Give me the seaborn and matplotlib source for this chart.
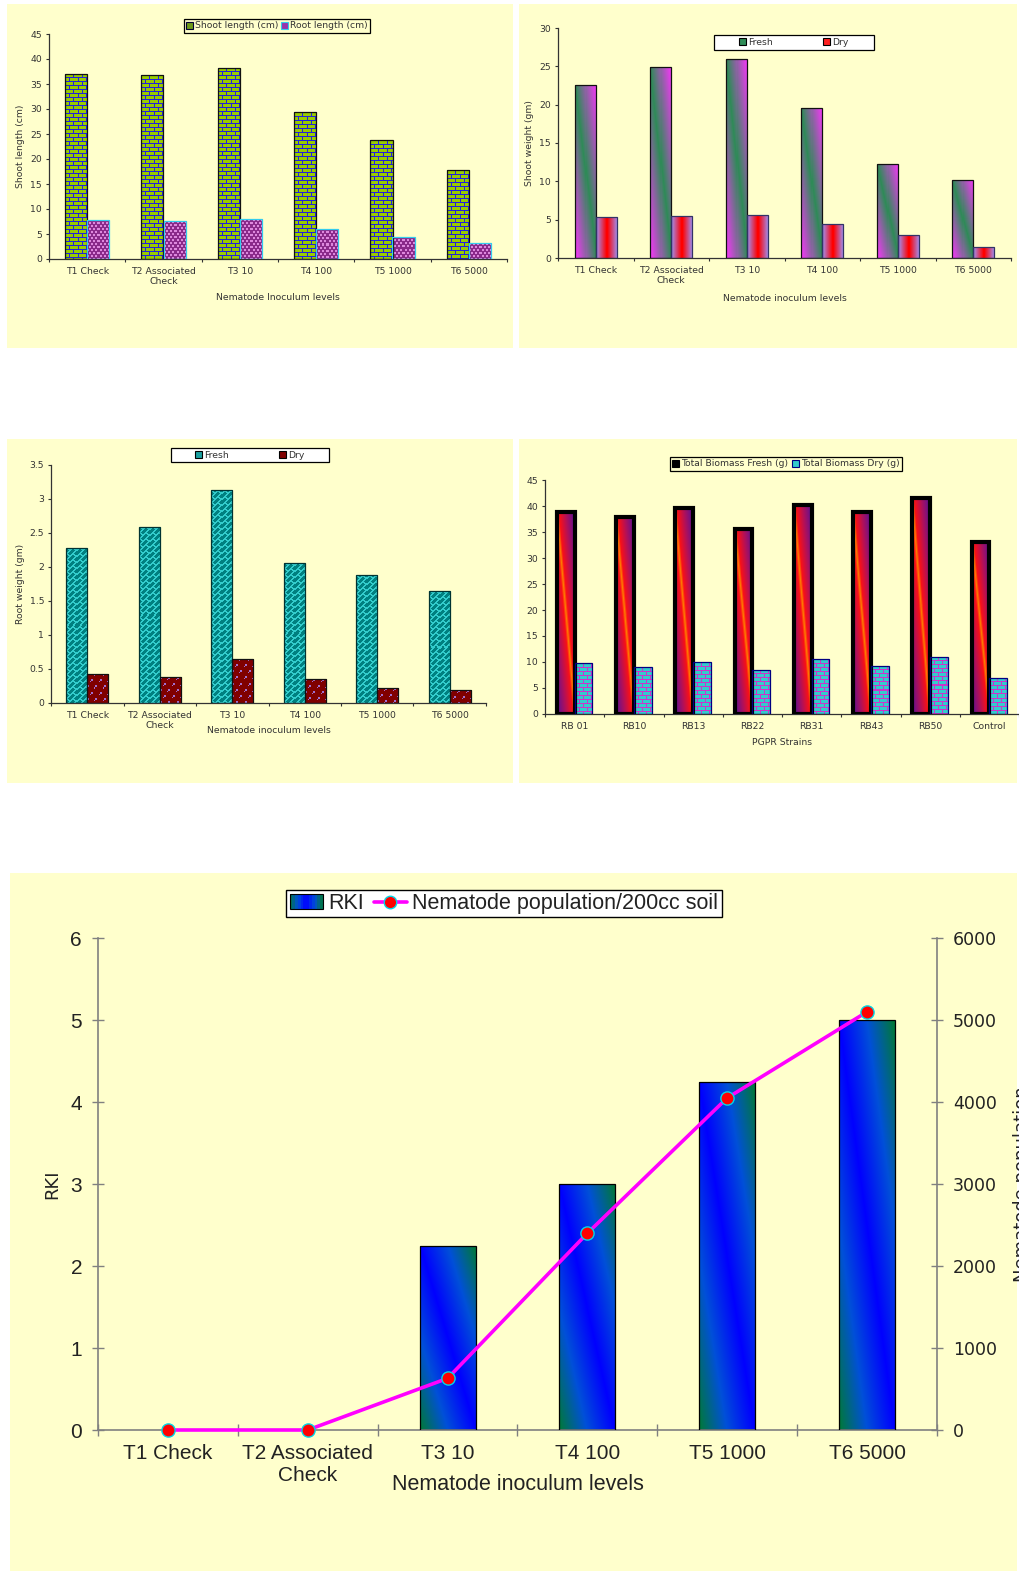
import numpy as np
import pandas as pd
import matplotlib
matplotlib.use("Agg")
import matplotlib.pyplot as plt
import matplotlib.colors as mcolors
import seaborn as sns
from matplotlib.patches import Rectangle, Patch
from matplotlib.lines import Line2D
from matplotlib.ticker import FixedLocator, FuncFormatter
from matplotlib.legend_handler import HandlerBase

sns.set_style("ticks")
plt.rcParams["font.family"] = ["DejaVu Sans"]

# ---------------------------------------------------------------- data
levels = ["T1 Check", "T2 Associated\nCheck", "T3 10", "T4 100", "T5 1000", "T6 5000"]

shoot_length = [37.1, 36.8, 38.3, 29.4, 23.8, 17.8]
root_length = [7.9, 7.6, 8.0, 6.1, 4.5, 3.2]

shoot_fresh = [22.6, 24.9, 25.9, 19.6, 12.2, 10.2]
shoot_dry = [5.3, 5.5, 5.6, 4.4, 3.0, 1.5]

root_fresh = [2.28, 2.59, 3.13, 2.06, 1.88, 1.65]
root_dry = [0.43, 0.38, 0.65, 0.35, 0.22, 0.19]

strains = ["RB 01", "RB10", "RB13", "RB22", "RB31", "RB43", "RB50", "Control"]
biomass_fresh = [38.8, 37.9, 39.6, 35.5, 40.1, 38.8, 41.6, 33.0]
biomass_dry = [9.8, 9.0, 10.0, 8.5, 10.5, 9.3, 11.0, 7.0]

rki = [0, 0, 2.25, 3.0, 4.25, 5.0]
population = [0, 0, 630, 2400, 4050, 5100]

# ---------------------------------------------------------------- figure
W, H = 1019, 1571
BG = "#FFFFCC"
TXT = "#333333"
SMALL = 6.7

fig = plt.figure(figsize=(W / 100, H / 100), dpi=100, facecolor="white")


def panel_bg(left, top, right, bottom):
    fig.add_artist(Rectangle((left / W, 1 - bottom / H), (right - left) / W,
                             (bottom - top) / H, transform=fig.transFigure,
                             facecolor=BG, edgecolor="none", zorder=-5))


def axes_px(left, top, right, bottom):
    ax = fig.add_axes([left / W, 1 - bottom / H, (right - left) / W, (bottom - top) / H])
    ax.set_facecolor("none")
    return ax


def fig_xy(x, y):
    return (x / W, 1 - y / H)


# ---------------------------------------------------------------- fills
def rgb(c):
    return np.array(mcolors.to_rgb(c))


def ramp(t, stops):
    ts = [s[0] for s in stops]
    cs = np.array([rgb(s[1]) for s in stops])
    return np.stack([np.interp(t, ts, cs[:, k]) for k in range(3)], axis=-1)


def grid(h, w):
    return np.mgrid[0:h, 0:w]


def brick(brick_c, mortar_c, bw=8, bh=4):
    def make(h, w):
        iy, ix = grid(h, w)
        off = ((iy // bh) % 2) * (bw // 2)
        m = (iy % bh == 0) | ((ix + off) % bw == 0)
        return np.where(m[..., None], rgb(mortar_c), rgb(brick_c))
    return make


def dots(base_c, dot_c):
    def make(h, w):
        iy, ix = grid(h, w)
        m = ((ix + 2 * ((iy // 3) % 2)) % 4 < 2) & (iy % 3 < 2)
        return np.where(m[..., None], rgb(dot_c), rgb(base_c))
    return make


def sparse_marks(base_c, mark_c):
    def make(h, w):
        iy, ix = grid(h, w)
        m = ((ix + 4 * ((iy // 6) % 2)) % 8 < 2) & (iy % 6 < 2)
        m |= ((ix + 4 * ((iy // 6) % 2) + 1) % 8 == 0) & (iy % 6 == 2)
        return np.where(m[..., None], rgb(mark_c), rgb(base_c))
    return make


def diag_brick(base_c, line_c, p=6):
    def make(h, w):
        iy, ix = grid(h, w)
        s = ix + iy
        d = ix - iy
        band = s // p
        m = (s % p < 2) | (((d + (band % 2) * p) % (2 * p)) < 2)
        return np.where(m[..., None], rgb(line_c), rgb(base_c))
    return make


def diag_gradient(stops):
    def make(h, w):
        iy, ix = grid(h, w)
        t = np.abs((ix + 0.5) / w - (iy + 0.5) / h)
        return ramp(t, stops)
    return make


def mid_gradient(stops):
    def make(h, w):
        iy, ix = grid(h, w)
        t = np.abs(2 * (ix + 0.5) / w - 1)
        return ramp(t, stops)
    return make


def paint(ax, patch, maker, edge, lw):
    ph = patch.get_height()
    patch.set_edgecolor(edge)
    patch.set_linewidth(lw)
    patch.set_facecolor("none")
    patch.set_zorder(3)
    if ph <= 0:
        patch.set_visible(False)
        return
    bb = patch.get_window_extent()
    w = max(int(round(bb.width)), 1)
    h = max(int(round(bb.height)), 1)
    x, y, pw = patch.get_x(), patch.get_y(), patch.get_width()
    im = ax.imshow(maker(h, w), extent=(x, x + pw, y, y + ph), origin="upper",
                   aspect="auto", interpolation="nearest", zorder=2)
    im.set_clip_path(patch)


def split_bars(ax):
    first, second = [], []
    for p in ax.patches:
        c = p.get_x() + p.get_width() / 2
        (first if c < round(c) else second).append(p)
    first.sort(key=lambda p: p.get_x())
    second.sort(key=lambda p: p.get_x())
    return first, second


def grouped(ax, cats, a, b, names, width):
    df = pd.DataFrame({
        "cat": list(cats) * 2,
        "series": [names[0]] * len(cats) + [names[1]] * len(cats),
        "value": list(a) + list(b),
    })
    sns.barplot(data=df, x="cat", y="value", hue="series", order=cats,
                hue_order=names, width=width, gap=0, errorbar=None,
                legend=False, palette=["#888888", "#444444"], saturation=1, ax=ax)


def setup_small(ax, cats, ymax, ystep):
    n = len(cats)
    ax.set_xlim(-0.5, n - 0.5)
    ax.set_ylim(0, ymax)
    ax.set_xticks(np.arange(n))
    ax.set_xticklabels(cats)
    ax.xaxis.set_minor_locator(FixedLocator(np.arange(-0.5, n, 1.0)))
    ax.set_yticks(np.arange(0, ymax + ystep / 2, ystep))
    ax.yaxis.set_major_formatter(FuncFormatter(lambda v, p: f"{v:g}"))
    ax.tick_params(axis="x", which="major", length=0, pad=5.5,
                   labelsize=SMALL, labelcolor=TXT)
    ax.tick_params(axis="x", which="minor", length=2.5, width=0.8,
                   direction="out", color=TXT)
    ax.tick_params(axis="y", which="major", length=2.5, width=0.8,
                   direction="out", pad=2.5, labelsize=SMALL,
                   labelcolor=TXT, color=TXT)
    for s in ["top", "right"]:
        ax.spines[s].set_visible(False)
    for s in ["left", "bottom"]:
        ax.spines[s].set_color(TXT)
        ax.spines[s].set_linewidth(0.9)
    ax.set_xlabel("")
    ax.set_ylabel("")


def small_labels(ax, xlabel, xl_y, ylabel=None, yl_x=None):
    ax.text(0.5, xl_y, xlabel, transform=ax.transAxes, ha="center",
            va="center", fontsize=SMALL, color=TXT)
    if ylabel:
        ax.text(yl_x, 0.5, ylabel, transform=ax.transAxes, ha="center",
                va="center", rotation=90, fontsize=SMALL, color=TXT)


def small_legend(handles, labels, center=None, box=None, face=BG, colsp=0.3):
    kw = dict(ncol=2, fontsize=SMALL, fancybox=False,
              handlelength=0.75, handleheight=0.75, handletextpad=0.2,
              borderpad=0.25, labelspacing=0.1, columnspacing=colsp,
              borderaxespad=0, labelcolor=TXT)
    if box is not None:
        # explicit frame, entries spread out inside it
        x0, y0, x1, y1 = box
        fig.add_artist(Rectangle((x0 / W, 1 - y1 / H), (x1 - x0) / W, (y1 - y0) / H,
                                 transform=fig.transFigure, facecolor=face,
                                 edgecolor="black", lw=0.9, zorder=4))
        leg = fig.legend(handles, labels, loc="center", frameon=False,
                         bbox_to_anchor=fig_xy((x0 + x1) / 2, (y0 + y1) / 2),
                         bbox_transform=fig.transFigure, **kw)
        leg.set_zorder(5)
    else:
        leg = fig.legend(handles, labels, loc="center", frameon=True,
                         edgecolor="black", facecolor=face, framealpha=1,
                         bbox_to_anchor=fig_xy(*center),
                         bbox_transform=fig.transFigure, **kw)
        leg.get_frame().set_linewidth(0.9)
    return leg


# ---------------------------------------------------------------- backgrounds
panel_bg(7, 4, 513, 348)
panel_bg(519, 4, 1017, 348)
panel_bg(7, 439, 513, 783)
panel_bg(519, 439, 1017, 783)
panel_bg(10, 873, 1017, 1571)

# ---------------------------------------------------------------- shoot / root length
ax1 = axes_px(49, 34, 507, 259)
grouped(ax1, levels, shoot_length, root_length,
        ["Shoot length (cm)", "Root length (cm)"], 0.58)
setup_small(ax1, levels, 45, 5)
a, b = split_bars(ax1)
for p in a:
    paint(ax1, p, brick("#99CC00", "#2222DD"), "#111111", 0.9)
for p in b:
    paint(ax1, p, dots("#8A2A8A", "#DD88DD"), "#33CCEE", 0.9)
small_labels(ax1, "Nematode Inoculum levels", -0.173, "Shoot length (cm)", -0.063)
small_legend([Patch(facecolor="#6E9A1A", edgecolor="#000033", lw=0.8),
              Patch(facecolor="#9933AA", edgecolor="#33CCEE", lw=0.8)],
             ["Shoot length (cm)", "Root length (cm)"], center=(277, 26))

# ---------------------------------------------------------------- shoot weight
ax2w = axes_px(558, 28, 1011, 258)
grouped(ax2w, levels, shoot_fresh, shoot_dry, ["Fresh", "Dry"], 0.56)
setup_small(ax2w, levels, 30, 5)
a, b = split_bars(ax2w)
for p in a:
    paint(ax2w, p, diag_gradient([(0, "#2E8B57"), (1, "#FF33FF")]), "#111111", 0.9)
for p in b:
    paint(ax2w, p, mid_gradient([(0, "#FF0000"), (1, "#9999FF")]), "#333366", 0.9)
small_labels(ax2w, "Nematode inoculum levels", -0.178, "Shoot weight (gm)", -0.062)
small_legend([Patch(facecolor="#2E8B57", edgecolor="black", lw=0.8),
              Patch(facecolor="#FF2020", edgecolor="black", lw=0.8)],
             ["Fresh", "Dry"], box=(714, 35, 874, 50), face="white", colsp=5.4)

# ---------------------------------------------------------------- root weight
ax3 = axes_px(51, 465, 486, 703)
grouped(ax3, levels, root_fresh, root_dry, ["Fresh", "Dry"], 0.58)
setup_small(ax3, levels, 3.5, 0.5)
a, b = split_bars(ax3)
for p in a:
    paint(ax3, p, diag_brick("#008080", "#33CCCC"), "#003333", 0.9)
for p in b:
    paint(ax3, p, sparse_marks("#800000", "#A070D0"), "#111111", 0.9)
small_labels(ax3, "Nematode inoculum levels", -0.116, "Root weight (gm)", -0.069)
small_legend([Patch(facecolor="#1AA0A0", edgecolor="black", lw=0.8),
              Patch(facecolor="#800000", edgecolor="black", lw=0.8)],
             ["Fresh", "Dry"], box=(171, 448, 329, 462), face="white", colsp=5.4)

# ---------------------------------------------------------------- total biomass
ax4 = axes_px(545, 480, 1019, 714)
grouped(ax4, strains, biomass_fresh, biomass_dry,
        ["Total Biomass Fresh (g)", "Total Biomass Dry (g)"], 0.6)
setup_small(ax4, strains, 45, 5)
a, b = split_bars(ax4)
for p in a:
    paint(ax4, p, diag_gradient([(0, "#FF7A00"), (0.12, "#F81018"),
                                 (0.5, "#B0105A"), (1, "#55119A")]), "black", 3.0)
for p in b:
    paint(ax4, p, brick("#33CCCC", "#CC33CC", bw=8, bh=4), "#000080", 0.9)
small_labels(ax4, "PGPR Strains", -0.123)
small_legend([Patch(facecolor="black", edgecolor="black", lw=0.8),
              Patch(facecolor="#33CCCC", edgecolor="#000080", lw=0.8)],
             ["Total Biomass Fresh (g)", "Total Biomass Dry (g)"],
             center=(786, 464), colsp=0.45)

# ---------------------------------------------------------------- RKI and nematode population
NARROW = "Liberation Sans"
AXC = "#808080"
ax5 = axes_px(98, 938, 937, 1430)
sns.barplot(x=levels, y=rki, color="#0000FF", width=0.4, errorbar=None,
            saturation=1, ax=ax5)
ax5.set_xlim(-0.5, 5.5)
ax5.set_ylim(0, 6)
ax6 = ax5.twinx()
ax6.set_ylim(0, 6000)
sns.lineplot(x=np.arange(len(levels)), y=population, ax=ax6, color="#FF00FF",
             lw=2.6, marker="o", markersize=9.5, clip_on=False, zorder=5)
for ln in ax6.lines:
    ln.set_markerfacecolor("#FF0000")
    ln.set_markeredgecolor("#00D8E8")
    ln.set_markeredgewidth(1.0)
    ln.set_clip_on(False)
ax5.set_xlim(-0.5, 5.5)
ax6.set_ylim(0, 6000)

for p in ax5.patches:
    paint(ax5, p, diag_gradient([(0, "#0000FF"), (0.5, "#0050D8"), (1, "#007A33")]),
          "black", 0.9)

ax5.set_xticks(np.arange(len(levels)))
ax5.set_xticklabels(levels, fontfamily=NARROW, fontsize=15)
ax5.xaxis.set_minor_locator(FixedLocator(np.arange(-0.5, len(levels), 1.0)))
ax5.tick_params(axis="x", which="major", length=0, pad=10, labelcolor="#222222")
ax5.tick_params(axis="x", which="minor", length=8, width=1, direction="inout", color=AXC)
ax5.set_yticks(np.arange(0, 7, 1))
ax5.set_yticklabels([f"{v:d}" for v in range(7)], fontfamily=NARROW, fontsize=15)
ax5.tick_params(axis="y", length=8, width=1, direction="inout", pad=7.5,
                color=AXC, labelcolor="#222222")
ax6.set_yticks(np.arange(0, 7000, 1000))
ax6.set_yticklabels([f"{v:d}" for v in range(0, 7000, 1000)], fontsize=12.5)
ax6.tick_params(axis="y", length=8, width=1, direction="inout", pad=7.5,
                color=AXC, labelcolor="#222222")
for s in ["top", "right"]:
    ax5.spines[s].set_visible(False)
for s in ["top", "left", "bottom"]:
    ax6.spines[s].set_visible(False)
for sp in [ax5.spines["left"], ax5.spines["bottom"], ax6.spines["right"]]:
    sp.set_color(AXC)
    sp.set_linewidth(1.2)
ax5.set_xlabel("")
ax5.set_ylabel("")
ax6.set_xlabel("")
ax6.set_ylabel("")

ax5.text(0.5, -0.110, "Nematode inoculum levels", transform=ax5.transAxes,
         ha="center", va="center", fontfamily=NARROW, fontsize=15.5, color="#222222")
ax5.text(-0.055, 0.5, "RKI", transform=ax5.transAxes, ha="center", va="center",
         rotation=90, fontsize=13, color="#222222")
# right-hand axis title, running off the right edge of the page
fig.text(1013 / W, 1 - 1184 / H, "Nematode population", rotation=90,
         ha="left", va="center", fontsize=13, color="#222222")


class GradientKey(HandlerBase):
    def __init__(self, colors):
        super().__init__()
        self.colors = colors

    def create_artists(self, legend, orig_handle, xdescent, ydescent,
                       width, height, fontsize, trans):
        n = len(self.colors)
        arts = [Rectangle((-xdescent + i * width / n, -ydescent), width / n + 0.01,
                          height, facecolor=c, edgecolor="none", transform=trans)
                for i, c in enumerate(self.colors)]
        arts.append(Rectangle((-xdescent, -ydescent), width, height,
                              facecolor="none", edgecolor="black", lw=0.8,
                              transform=trans))
        return arts


key_cols = [mcolors.to_hex(c) for c in
            ramp(np.abs(np.linspace(0.05, 0.95, 12) - 0.5) * 2,
                 [(0, "#0000FF"), (0.5, "#0050D8"), (1, "#007A33")])]
rki_handle = Patch(facecolor="#0000FF")
pop_handle = Line2D([], [], color="#FF00FF", lw=2.6, marker="o", markersize=9,
                    markerfacecolor="#FF0000", markeredgecolor="#00D8E8")
leg5 = fig.legend([rki_handle, pop_handle], ["RKI", "Nematode population/200cc soil"],
                  loc="center", bbox_to_anchor=fig_xy(504, 903.5),
                  bbox_transform=fig.transFigure, ncol=2,
                  prop={"family": NARROW, "size": 15.5}, frameon=True,
                  fancybox=False, edgecolor="black", facecolor="white",
                  framealpha=1, handlelength=1.55, handleheight=0.65,
                  handletextpad=0.25, columnspacing=0.45, borderpad=0.15,
                  labelcolor="#222222",
                  handler_map={Patch: GradientKey(key_cols)})
leg5.get_frame().set_linewidth(1.0)

fig.savefig("out.png", dpi=100, facecolor="white")
